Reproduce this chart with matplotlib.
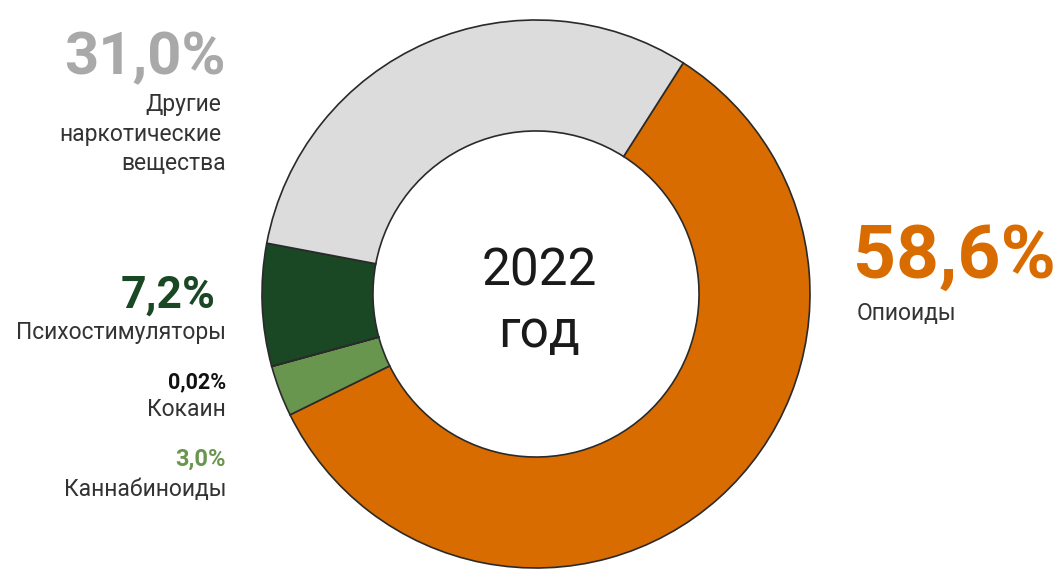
import matplotlib
matplotlib.use("Agg")
import matplotlib.pyplot as plt

plt.rcParams['font.family'] = ['Roboto', 'DejaVu Sans']

# data (clockwise from the top-right boundary)
labels = ["Опиоиды", "Каннабиноиды", "Кокаин", "Психостимуляторы", "Другие наркотические вещества"]
shares = [58.6, 3.0, 0.02, 7.2, 31.0]
colors = ["#D96C00", "#69964F", "#111111", "#1A4724", "#DCDCDC"]
pct_text = ["58,6%", "3,0%", "0,02%", "7,2%", "31,0%"]

W, H = 1059, 570
fig = plt.figure(figsize=(W / 100, H / 100), dpi=100)
ax = fig.add_axes([0, 0, 1, 1])

cx, cy, R = 536, H - 294, 274
ax.pie(shares, colors=colors, startangle=57.5, counterclock=False,
       center=(cx, cy), radius=R,
       wedgeprops=dict(width=R * 0.405, edgecolor="#2a2a2a", linewidth=1.2))
ax.set_xlim(0, W)
ax.set_ylim(0, H)
ax.set_aspect('equal')
ax.axis('off')

def y(v):
    return H - v

lab_fs = 16.5
lab_col = "#333333"

# centre
ax.text(cx + 3, y(272), "2022", ha='center', va='center', fontsize=37, color="#1a1a1a")
ax.text(cx + 3, y(333), "год", ha='center', va='center', fontsize=37, color="#1a1a1a")

# others
ax.text(226, y(58), pct_text[4], ha='right', va='center', fontsize=43, fontweight='bold', color="#A9A9A9")
ax.text(221, y(105), "Другие", ha='right', va='center', fontsize=lab_fs, color=lab_col)
ax.text(221, y(135), "наркотические", ha='right', va='center', fontsize=lab_fs, color=lab_col)
ax.text(226, y(163), "вещества", ha='right', va='center', fontsize=lab_fs, color=lab_col)

# psychostimulants
ax.text(216, y(296), pct_text[3], ha='right', va='center', fontsize=32, fontweight='bold', color="#1A4724")
ax.text(226, y(333), labels[3], ha='right', va='center', fontsize=lab_fs, color=lab_col)

# cocaine
ax.text(226, y(382), pct_text[2], ha='right', va='center', fontsize=15.5, fontweight='bold', color="#111111")
ax.text(226, y(410), labels[2], ha='right', va='center', fontsize=lab_fs, color=lab_col)

# cannabinoids
ax.text(226, y(459), pct_text[1], ha='right', va='center', fontsize=17, fontweight='bold', color="#69964F")
ax.text(226, y(490), labels[1], ha='right', va='center', fontsize=lab_fs, color=lab_col)

# opioids
ax.text(853, y(258), pct_text[0], ha='left', va='center', fontsize=54, fontweight='bold', color="#D96C00")
ax.text(857, y(313), labels[0], ha='left', va='center', fontsize=lab_fs, color=lab_col)

fig.savefig("out.png", dpi=100)
